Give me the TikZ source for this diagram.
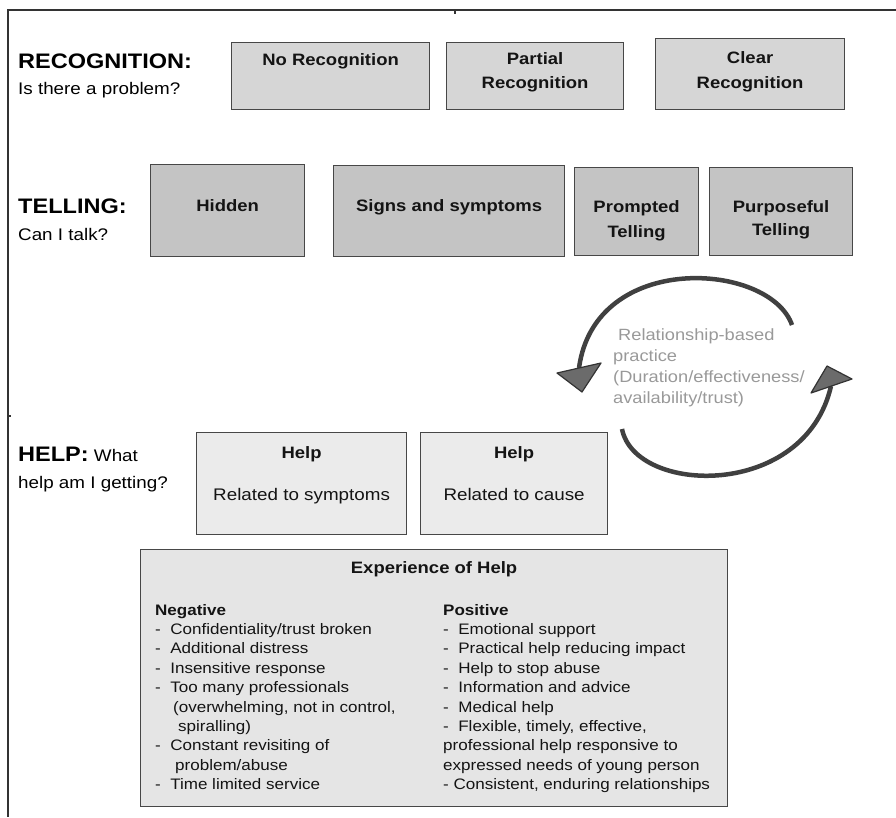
\documentclass[tikz,border=0pt]{standalone}
\usepackage{fontspec}
\setmainfont{Liberation Sans}[FakeStretch=1.12]
\newcommand\myfs[2]{\fontsize{#1}{#2}\selectfont}
\tikzset{
  frame/.style={draw=black!80, line width=1.2pt},
  boxbase/.style={draw=black!72, line width=1.2pt, inner sep=0pt, anchor=north west},
  boxrec/.style={boxbase, fill=black!16},
  boxtel/.style={boxbase, fill=black!23},
  boxhelp/.style={boxbase, fill=black!8},
  boxexp/.style={boxbase, fill=black!10},
  head/.style={font={\myfs{21}{25}\bfseries}, anchor=base west, inner sep=0pt},
  sub/.style={font={\myfs{16.8}{20}}, anchor=base west, inner sep=0pt},
  btxt/.style={font={\myfs{16.5}{20}\bfseries}, anchor=base, inner sep=0pt, text=black!92},
  rtxt/.style={font={\myfs{16.8}{20}}, anchor=base, inner sep=0pt, text=black!92},
  ltxt/.style={font={\myfs{15.2}{19}}, anchor=base west, inner sep=0pt, text=black!92},
  lhead/.style={font={\myfs{15.2}{19}\bfseries}, anchor=base west, inner sep=0pt, text=black!92},
  reltxt/.style={font={\myfs{16.3}{20}}, text=black!40, anchor=base west, inner sep=0pt},
  arcline/.style={draw=black!75, line width=4.5pt},
  ahead/.style={fill=black!58, draw=black!80, line width=1.2pt, line join=round},
}
\begin{document}
\begin{tikzpicture}[x=1pt,y=-1pt]
\useasboundingbox (0,0) rectangle (896,817);
% frame
\draw[frame] (7,10) -- (896,10);
\draw[frame] (8,10) -- (8,817);
\draw[frame] (455,10) -- (455,13.5);
\draw[frame] (8,416) -- (10.5,416);

% row headings
\node[head] (rech) at (18,68) {RECOGNITION:};
\node[sub]  (recs) at (18,94) {Is there a problem?};
\node[head] (telh) at (18,213) {TELLING:};
\node[sub]  (tels) at (18,240) {Can I talk?};
\node[sub]  (helh) at (18,461) {{\myfs{21}{25}\bfseries HELP:} What};
\node[sub]  (hels) at (18,488) {help am I getting?};

% recognition boxes
\node[boxrec, minimum width=198pt, minimum height=67pt] (nr) at (231,42) {};
\node[btxt] (nrt) at (nr.north |- 0,65) {No Recognition};
\node[boxrec, minimum width=177pt, minimum height=67pt] (pr) at (446,42) {};
\node[btxt] (prt1) at (pr.north |- 0,64) {Partial};
\node[btxt] (prt2) at (pr.north |- 0,88) {Recognition};
\node[boxrec, minimum width=189pt, minimum height=71pt] (cr) at (655,38) {};
\node[btxt] (crt1) at (cr.north |- 0,63) {Clear};
\node[btxt] (crt2) at (cr.north |- 0,88) {Recognition};

% telling boxes
\node[boxtel, minimum width=154pt, minimum height=92pt] (hid) at (150,164) {};
\node[btxt] (hidt) at (hid.north |- 0,211) {Hidden};
\node[boxtel, minimum width=231pt, minimum height=91pt] (sas) at (333,165) {};
\node[btxt] (sast) at (sas.north |- 0,211) {Signs and symptoms};
\node[boxtel, minimum width=124pt, minimum height=88pt] (pt) at (574,167) {};
\node[btxt] (ptt1) at (pt.north |- 0,212) {Prompted};
\node[btxt] (ptt2) at (pt.north |- 0,237) {Telling};
\node[boxtel, minimum width=143pt, minimum height=88pt] (put) at (709,167) {};
\node[btxt] (putt1) at (put.north |- 0,212) {Purposeful};
\node[btxt] (putt2) at (put.north |- 0,235) {Telling};

% relationship-based practice
\coordinate (ua) at (792,325);
\coordinate (ub) at (579,368);
\coordinate (la) at (622,429);
\coordinate (lb) at (831,386);
\draw[arcline] (ua) .. controls (770,262) and (595,250) .. (ub);
\draw[arcline] (la) .. controls (635,495) and (805,500) .. (lb);
\draw[ahead] (557,373) -- (601,363) -- (582,392) -- cycle;
\draw[ahead] (852,379) -- (811,393) -- (827,366) -- cycle;
\node[reltxt] (rel1) at (618,340) {Relationship-based};
\node[reltxt] (rel2) at (613,361) {practice};
\node[reltxt] (rel3) at (613,382) {(Duration/effectiveness/};
\node[reltxt] (rel4) at (613,403) {availability/trust)};

% help boxes
\node[boxhelp, minimum width=210pt, minimum height=102pt] (hs) at (196,432) {};
\node[btxt] (hst1) at (hs.north |- 0,458) {Help};
\node[rtxt] (hst2) at (hs.north |- 0,500) {Related to symptoms};
\node[boxhelp, minimum width=187pt, minimum height=102pt] (hc) at (420,432) {};
\node[btxt] (hct1) at (hc.north |- 0,458) {Help};
\node[rtxt] (hct2) at (hc.north |- 0,500) {Related to cause};

% experience of help
\node[boxexp, minimum width=587pt, minimum height=257pt] (exp) at (140,549) {};
\node[btxt] (expt) at (exp.north |- 0,573) {Experience of Help};

\node[lhead] (n0) at (155,615) {Negative};
\node[ltxt] (n1) at (155,634.4) {-\ \ Confidentiality/trust broken};
\node[ltxt] (n2) at (155,653.8) {-\ \ Additional distress};
\node[ltxt] (n3) at (155,673.2) {-\ \ Insensitive response};
\node[ltxt] (n4) at (155,692.6) {-\ \ Too many professionals};
\node[ltxt] (n5) at (173,712.0) {(overwhelming, not in control,};
\node[ltxt] (n6) at (178,731.4) {spiralling)};
\node[ltxt] (n7) at (155,750.8) {-\ \ Constant revisiting of};
\node[ltxt] (n8) at (175,770.2) {problem/abuse};
\node[ltxt] (n9) at (155,789.6) {-\ \ Time limited service};

\node[lhead] (p0) at (443,615) {Positive};
\node[ltxt] (p1) at (443,634.4) {-\ \ Emotional support};
\node[ltxt] (p2) at (443,653.8) {-\ \ Practical help reducing impact};
\node[ltxt] (p3) at (443,673.2) {-\ \ Help to stop abuse};
\node[ltxt] (p4) at (443,692.6) {-\ \ Information and advice};
\node[ltxt] (p5) at (443,712.0) {-\ \ Medical help};
\node[ltxt] (p6) at (443,731.4) {-\ \ Flexible, timely, effective,};
\node[ltxt] (p7) at (443,750.8) {professional help responsive to};
\node[ltxt] (p8) at (443,770.2) {expressed needs of young person};
\node[ltxt] (p9) at (443,789.6) {- Consistent, enduring relationships};
\end{tikzpicture}
\end{document}
